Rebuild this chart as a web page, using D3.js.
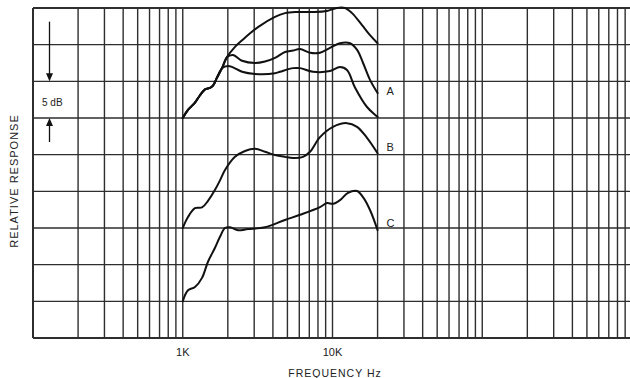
<!DOCTYPE html>
<html><head><meta charset="utf-8">
<script src="https://cdn.jsdelivr.net/npm/d3@7"></script>
<style>
html,body{margin:0;padding:0;background:#fff;}
svg{display:block;}
text{font-family:"Liberation Sans",Arial,sans-serif;fill:#222;}
</style></head>
<body><svg id="chart" width="630" height="378"></svg>
<script>
// ---- data (frequency in Hz, relative response in dB) ----
const curveATop = [[1000,30.0],[1084,31.1],[1207,32.1],[1304,33.1],[1408,33.9],[1521,34.1],[1592,34.4],[1693,35.5],[1829,36.8],[1975,38.3],[2233,39.7],[2490,40.6],[3180,42.4],[4130,43.8],[4820,44.3],[5790,44.45],[7410,44.45],[9190,44.6],[10700,45],[12100,45],[13500,44.3],[15700,42.7],[17800,41.3],[20000,40.2]];
const curveAMid = [[1000,30.0],[1084,31.1],[1207,32.1],[1304,33.1],[1408,33.9],[1521,34.1],[1592,34.4],[1693,35.5],[1829,36.8],[1975,38.3],[2166,38.6],[2490,37.8],[3040,37.5],[3540,37.7],[4130,38.2],[4820,39.0],[5450,39.2],[6070,39.4],[7080,38.9],[8250,38.9],[9620,39.55],[11200,40.2],[13100,40.2],[14600,39.3],[16000,37.5],[17800,35.2],[20000,33.4]];
const curveALow = [[1000,30.0],[1084,31.1],[1207,32.1],[1304,33.1],[1408,33.9],[1521,34.1],[1592,34.4],[1693,35.5],[1829,36.8],[2005,37.1],[2166,36.9],[2490,36.3],[3040,36.0],[4130,36.1],[4460,36.3],[5450,36.8],[6070,36.8],[7410,36.3],[9620,36.4],[11200,36.95],[12500,36.55],[14100,34.2],[17000,31.5],[20000,30.15]];
const curveB = [[1000,15.0],[1084,16.5],[1207,17.7],[1345,17.8],[1474,18.7],[1642,20.2],[1773,21.5],[1915,22.9],[2233,24.7],[2604,25.5],[3038,25.8],[3543,25.4],[4130,24.95],[4818,24.7],[5448,24.55],[6353,24.7],[7075,25.4],[8252,27.4],[10077,28.8],[12497,29.3],[14578,28.8],[16998,27.3],[20000,25.2]];
const curveC = [[1000,5.0],[1084,6.5],[1207,6.95],[1345,8.2],[1474,10.4],[1642,12.3],[1773,13.8],[1915,15.0],[2069,15.1],[2339,14.7],[2727,14.85],[3543,15.1],[4818,16.1],[6067,16.8],[8252,17.85],[9190,18.4],[10077,18.3],[11223,18.8],[12691,19.8],[14578,20.05],[15985,19.2],[17801,17.45],[20000,14.7]];
const curveLabels = ["A","B","C"];
const labelAnchors = [[20000,33.4],[20000,25.2],[20000,14.7]];
const xTickValues = [1000, 10000];
const xTickLabels = ["1K", "10K"];
const yGridValues = [0,5,10,15,20,25,30,35,40,45];

// ---- scales ----
const svg = d3.select("#chart");
const x = d3.scaleLog().domain([100, 1e6]).range([33, 632]);
const y = d3.scaleLinear().domain([0, 45]).range([338, 8]);

// vertical grid: every integer multiple within each decade
const vGrid = [];
for (let d = 100; d < 1e6; d *= 10) for (let k = 1; k <= 9; k++) vGrid.push(d * k);
vGrid.push(1e6);

const g = svg.append("g");
g.selectAll("line.v").data(vGrid).join("line")
  .attr("x1", d => x(d)).attr("x2", d => x(d))
  .attr("y1", y(45)).attr("y2", y(0))
  .attr("stroke", "#2e2e2e").attr("stroke-width", d => d === 100 ? 2 : 1.4);
g.selectAll("line.h").data(yGridValues).join("line")
  .attr("x1", x(100)).attr("x2", 632)
  .attr("y1", d => y(d)).attr("y2", d => y(d))
  .attr("stroke", "#2e2e2e").attr("stroke-width", d => (d === 0 || d === 45) ? 2.2 : 1.4);

// curves
const line = d3.line().x(d => x(d[0])).y(d => y(d[1])).curve(d3.curveCatmullRom.alpha(0.5));
[curveATop, curveAMid, curveALow, curveB, curveC].forEach(c => {
  svg.append("path").attr("d", line(c)).attr("fill", "none")
    .attr("stroke", "#111").attr("stroke-width", 2).attr("stroke-linejoin", "round").attr("stroke-linecap", "round");
});

// curve labels
svg.selectAll("text.cl").data(curveLabels).join("text")
  .attr("x", (d, i) => x(labelAnchors[i][0]) + 9)
  .attr("y", (d, i) => [95, 151, 227][i])
  .attr("font-size", 11).text(d => d);

// x tick labels
svg.selectAll("text.xt").data(xTickValues).join("text")
  .attr("x", d => x(d)).attr("y", 356).attr("text-anchor", "middle")
  .attr("font-size", 11).text((d, i) => xTickLabels[i]);

// axis titles
svg.append("text").attr("x", 335).attr("y", 377).attr("text-anchor", "middle")
  .attr("font-size", 10.5).attr("letter-spacing", 1).text("FREQUENCY Hz");
svg.append("text").attr("transform", "translate(18,181) rotate(-90)").attr("text-anchor", "middle")
  .attr("font-size", 11).attr("letter-spacing", 1).text("RELATIVE RESPONSE");

// 5 dB scale marker
const ax = 49.5;
svg.append("text").attr("x", 42).attr("y", 106).attr("font-size", 10).text("5 dB");
svg.append("line").attr("x1", ax).attr("x2", ax).attr("y1", y(40) - 23).attr("y2", y(35) - 6)
  .attr("stroke", "#111").attr("stroke-width", 1.3);
svg.append("path").attr("d", `M${ax-3.5},${y(35)-8} L${ax+3.5},${y(35)-8} L${ax},${y(35)} Z`).attr("fill", "#111");
svg.append("line").attr("x1", ax).attr("x2", ax).attr("y1", y(30) + 6).attr("y2", y(30) + 24)
  .attr("stroke", "#111").attr("stroke-width", 1.3);
svg.append("path").attr("d", `M${ax-3.5},${y(30)+8} L${ax+3.5},${y(30)+8} L${ax},${y(30)} Z`).attr("fill", "#111");
</script></body></html>
